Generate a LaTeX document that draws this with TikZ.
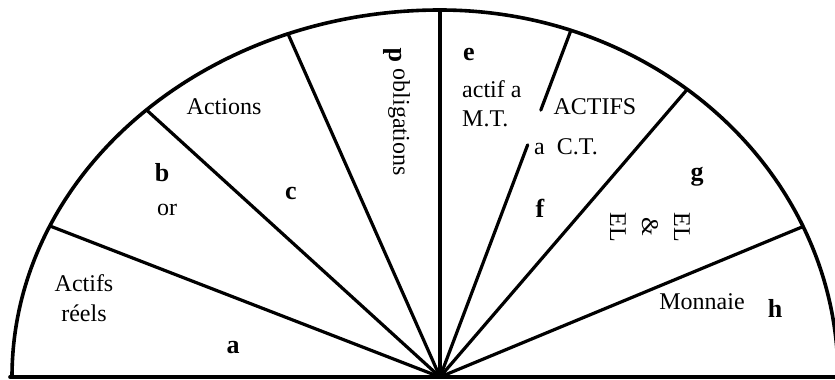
\documentclass[tikz,border=0pt]{standalone}
\usepackage{fontspec}
\setmainfont{Liberation Serif}
\usetikzlibrary{calc}
\begin{document}
\begin{tikzpicture}[x=1pt,y=1pt,
  rim/.style={line width=3.6pt,line cap=round,line join=round},
  spoke/.style={line width=3.2pt,line cap=round},
  lbl/.style={inner sep=0pt,font=\fontsize{24}{30}\selectfont},
  key/.style={inner sep=0pt,font=\fontsize{26}{30}\selectfont\bfseries}]
\useasboundingbox (0,0) rectangle (835,380);
\fill[white] (0,0) rectangle (835,380);
\coordinate (C) at (440,3);
\coordinate (L) at (12,3);
% outline
\draw[rim] (L) arc[start angle=180,end angle=90,x radius=428,y radius=367]
  coordinate (T) arc[start angle=90,end angle=0,x radius=398,y radius=367];
\draw[rim] (10,3) coordinate (B0) -- (840,3) coordinate (B1);
% spoke end points on the rim
\coordinate (A1) at ($(C)+(155.7:428 and 367)$);
\coordinate (A2) at ($(C)+(133.3:428 and 367)$);
\coordinate (A3) at ($(C)+(110.8:428 and 367)$);
\coordinate (A5) at ($(C)+(70.8:398 and 367)$);
\coordinate (A6) at ($(C)+(51.6:398 and 367)$);
\coordinate (A7) at ($(C)+(24.2:398 and 367)$);
\coordinate (G1) at ($(C)!0.77!(A5)$);
\coordinate (G2) at ($(C)!0.67!(A5)$);
% spokes
\draw[spoke] (C) -- (A1);
\draw[spoke] (C) -- (A2);
\draw[spoke] (C) -- (A3);
\draw[spoke] (C) -- (T);
\draw[spoke] (A5) -- (G1);
\draw[spoke] (G2) -- (C);
\draw[spoke] (C) -- (A6);
\draw[spoke] (C) -- (A7);
% labels
\node[lbl,align=center] (ar) at (84,82) {Actifs\\réels};
\node[key] (ka) at (233,32) {a};
\node[key] (kb) at (162,207) {b};
\node[lbl] (or) at (167,170) {or};
\node[lbl] (act) at (224,273) {Actions};
\node[key] (kc) at (291,187) {c};
\node[key,rotate=90] (kd) at (393,325) {d};
\node[lbl,rotate=-90] (obl) at (399,258) {obligations};
\node[key,anchor=west] (ke) at (463,325) {e};
\node[lbl,anchor=west] (actifa) at (462,291) {actif a};
\node[lbl,anchor=west] (mt) at (462,261) {M.T.};
\node[lbl] (actifs) at (595,273) {ACTIFS};
\node[lbl] (act2) at (566,233) {a\ \ C.T.};
\node[key] (kf) at (540,172) {f};
\node[key] (kg) at (697,203) {g};
\node[lbl,rotate=-90,align=center,font=\fontsize{24}{32}\selectfont] (el) at (650,153) {EL\\\&\\EL};
\node[lbl] (mon) at (702,78) {Monnaie};
\node[key] (kh) at (775,72) {h};
\end{tikzpicture}
\end{document}
